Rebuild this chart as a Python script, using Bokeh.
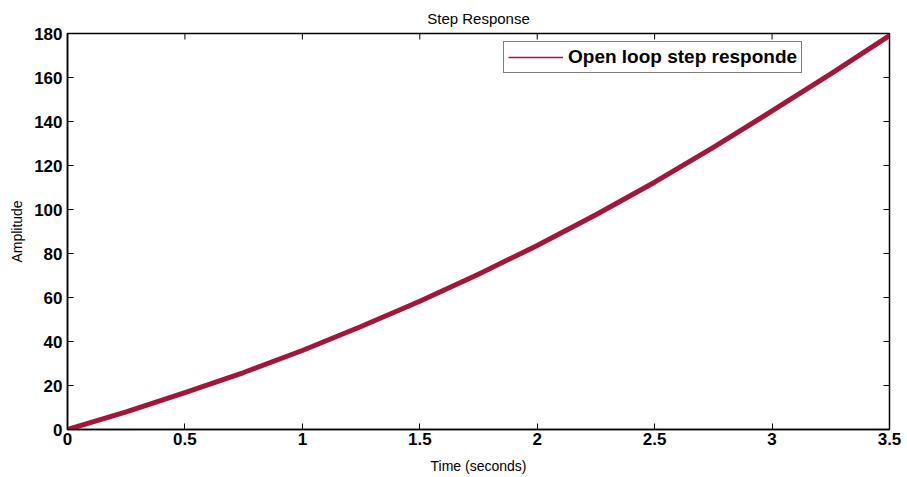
import math
from bokeh.plotting import figure
from bokeh.models import LinearAxis, FixedTicker, Range1d, Legend, LegendItem
from bokeh.embed import file_html
from bokeh.resources import INLINE

# Data
time_s = [0.0, 0.25, 0.5, 0.75, 1.0, 1.25, 1.5, 1.75, 2.0, 2.25, 2.5, 2.75, 3.0, 3.25, 3.5]
amplitude = [0.0, 8.0, 16.8, 25.9, 35.9, 46.8, 58.3, 70.6, 83.6, 97.6, 112.4, 128.2, 144.8, 161.6, 179.0]

x_min, x_max = 0.0, 3.5
y_min, y_max = 0.0, 180.0
x_ticks = [0, 0.5, 1, 1.5, 2, 2.5, 3, 3.5]
x_tick_labels = ["0", "0.5", "1", "1.5", "2", "2.5", "3", "3.5"]
y_ticks = [0, 20, 40, 60, 80, 100, 120, 140, 160, 180]
y_tick_labels = ["0", "20", "40", "60", "80", "100", "120", "140", "160", "180"]

title_text = "Step Response"
x_label = "Time (seconds)"
y_label = "Amplitude"
legend_label = "Open loop step responde"

FONT = "Liberation Sans"
LINE_COLOR = "#A3173A"

p = figure(width=907, height=477, output_backend="svg", toolbar_location=None,
           x_range=Range1d(x_min, x_max), y_range=Range1d(y_min, y_max),
           min_border_left=67, min_border_right=18, min_border_top=33, min_border_bottom=48,
           x_axis_location=None, y_axis_location=None)

p.background_fill_color = "white"
p.border_fill_color = "white"
p.outline_line_color = "black"
p.outline_line_width = 1.5
p.xgrid.grid_line_color = None
p.ygrid.grid_line_color = None

p.title.text = title_text
p.title.align = "center"
p.title.text_font = FONT
p.title.text_font_style = "normal"
p.title.text_font_size = "15px"
p.title.text_color = "black"
p.title.offset = 0
p.title.standoff = 13

def style_axis(ax, ticks, labels):
    ax.ticker = FixedTicker(ticks=ticks)
    ax.major_label_overrides = {t: l for t, l in zip(ticks, labels)}
    ax.major_tick_in = 6
    ax.major_tick_out = 0
    ax.minor_tick_in = 0
    ax.minor_tick_out = 0
    ax.major_tick_line_color = "black"
    ax.axis_line_color = "black"
    ax.axis_line_width = 1.5
    ax.major_label_text_font = FONT
    ax.major_label_text_font_style = "bold"
    ax.major_label_text_font_size = "17px"
    ax.major_label_text_color = "black"
    ax.axis_label_text_font = FONT
    ax.axis_label_text_font_style = "normal"
    ax.axis_label_text_font_size = "14px"
    ax.axis_label_text_color = "black"

xb = LinearAxis(axis_label=x_label)
style_axis(xb, x_ticks, x_tick_labels)
xb.major_label_standoff = 3
xb.axis_label_standoff = 10
p.add_layout(xb, "below")

yl = LinearAxis(axis_label=y_label)
style_axis(yl, y_ticks, y_tick_labels)
yl.major_label_standoff = 5
yl.axis_label_standoff = 6
p.add_layout(yl, "left")

# inward tick marks on the top and right edges of the box (half clipped by the frame)
p.scatter(x=x_ticks, y=[y_max] * len(x_ticks), marker="dash", size=12, angle=math.pi / 2,
          line_color="black", line_width=1)
p.scatter(x=[x_max] * len(y_ticks), y=y_ticks, marker="dash", size=12,
          line_color="black", line_width=1)

p.line(time_s, amplitude, line_color=LINE_COLOR, line_width=5, line_join="round", line_cap="round")
# thin line on top (hidden inside the thick one) used for the legend sample
thin = p.line(time_s, amplitude, line_color=LINE_COLOR, line_width=1.5)

legend = Legend(items=[LegendItem(label=legend_label, renderers=[thin])],
                location=(436, 356))
legend.border_line_color = "black"
legend.border_line_width = 1.5
legend.background_fill_color = "white"
legend.background_fill_alpha = 1
legend.label_text_font = FONT
legend.label_text_font_style = "bold"
legend.label_text_font_size = "19px"
legend.label_text_color = "black"
legend.label_height = 16
legend.glyph_width = 55
legend.glyph_height = 16
legend.label_standoff = 5
legend.padding = 4
legend.margin = 0
p.add_layout(legend, "center")

open("out.html", "w").write(file_html(p, INLINE))
